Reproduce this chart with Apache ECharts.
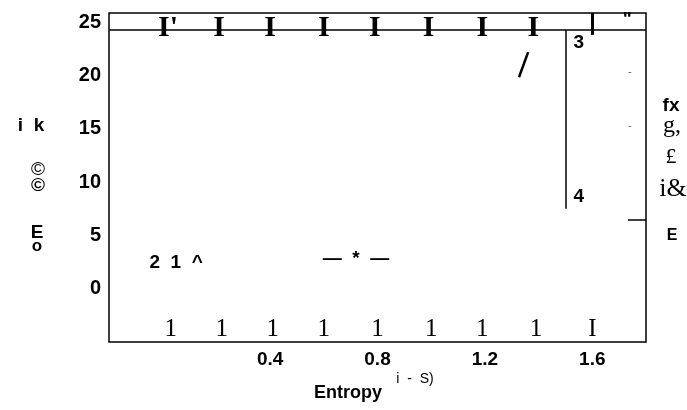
<!DOCTYPE html>
<html>
<head>
<meta charset="utf-8">
<script src="https://cdn.jsdelivr.net/npm/echarts@6/dist/echarts.min.js"></script>
<style>
  html, body { margin: 0; padding: 0; background: #fff; }
  #chart { width: 687px; height: 410px; }
</style>
</head>
<body>
<div id="chart"></div>
<script>
// axis ticks shown on the picture
const xTickLabels = ['0.4', '0.8', '1.2', '1.6'];
const yTickLabels = ['0', '5', '10', '15', '20', '25'];

// glyph rows along bottom and top of the frame
const bottomGlyphs = ['1', '1', '1', '1', '1', '1', '1', '1', 'I'];
const bottomGlyphX = [0.03, 0.22, 0.41, 0.6, 0.8, 1.0, 1.19, 1.39, 1.6];
const bottomGlyphY = -3.85;
const topGlyphs = ["I'", 'I', 'I', 'I', 'I', 'I', 'I', 'I'];
const topGlyphX = [0.02, 0.21, 0.4, 0.6, 0.79, 0.99, 1.19, 1.38];
const topGlyphY = 24.45;

// loose marks inside the plot
const noteText = ['2  1  ^', '—  *  —', '3', '4', '"'];
const noteX = [0.05, 0.72, 1.55, 1.55, 1.73];
const noteY = [2.44, 2.8, 23.1, 8.65, 25.2];

// line segments [x1, y1, x2, y2]
const segments = [
    [-0.2, 24.25, 1.8, 24.25],
    [1.5, 24.25, 1.5, 7.5],
    [1.6, 25.85, 1.6, 23.8],
    [1.733, 6.5, 1.8, 6.5],
    [1.327, 19.83, 1.361, 22.18],
    [1.735, 20.3, 1.745, 20.3],
    [1.735, 15.2, 1.745, 15.2]
];
const segmentWidth = [1.5, 1.5, 3, 1.5, 2.5, 1, 1];
const segmentColor = ['#000', '#000', '#000', '#000', '#000', '#777', '#777'];

const SANS = 'Liberation Sans, Arial, sans-serif';
const SERIF = 'Liberation Serif, Times New Roman, serif';

const chart = echarts.init(document.getElementById('chart'), null, { renderer: 'canvas' });

function glyphSeries(texts, xs, y, size, weight) {
    return {
        type: 'scatter',
        symbolSize: 0,
        silent: true,
        itemStyle: { opacity: 1 },
        data: texts.map((t, i) => ({ name: t, value: [xs[i], y] })),
        label: {
            show: true,
            position: 'inside',
            formatter: p => p.name,
            fontFamily: SERIF,
            fontWeight: weight,
            fontSize: size,
            color: '#000'
        }
    };
}

const sideText = (text, x, y, font) => ({
    type: 'text',
    x: x,
    y: y,
    style: {
        text: text,
        font: font,
        fill: '#000',
        textAlign: 'center',
        textVerticalAlign: 'middle'
    }
});

chart.setOption({
    animation: false,
    backgroundColor: '#fff',
    grid: {
        left: 109, right: 41, top: 13, bottom: 68,
        show: true,
        borderColor: '#000',
        borderWidth: 1.5
    },
    xAxis: {
        type: 'value',
        min: -0.2, max: 1.8, interval: 0.2,
        axisLine: { show: false },
        axisTick: { show: false },
        splitLine: { show: false },
        axisLabel: {
            margin: 8,
            color: '#000',
            fontFamily: SANS,
            fontWeight: 'bold',
            fontSize: 19,
            formatter: v => {
                const s = (+v).toFixed(1);
                return xTickLabels.includes(s) ? s : '';
            }
        }
    },
    yAxis: {
        type: 'value',
        min: -5, max: 25.85, interval: 5,
        axisLine: { show: false },
        axisTick: { show: false },
        splitLine: { show: false },
        axisLabel: {
            margin: 8,
            color: '#000',
            fontFamily: SANS,
            fontWeight: 'bold',
            fontSize: 20,
            formatter: v => {
                const s = String(Math.round(v));
                return yTickLabels.includes(s) ? s : '';
            }
        }
    },
    series: [
        glyphSeries(bottomGlyphs, bottomGlyphX, bottomGlyphY, 25, 'normal'),
        glyphSeries(topGlyphs, topGlyphX, topGlyphY, 30, 'bold'),
        {
            type: 'scatter',
            symbolSize: 0,
            silent: true,
            itemStyle: { opacity: 1 },
            data: noteText.map((t, i) => ({ name: t, value: [noteX[i], noteY[i]] })),
            label: {
                show: true,
                position: 'inside',
                formatter: p => p.name,
                fontFamily: SANS,
                fontWeight: 'bold',
                fontSize: 19,
                color: '#000'
            }
        },
        {
            type: 'lines',
            coordinateSystem: 'cartesian2d',
            silent: true,
            data: segments.map((s, i) => ({
                coords: [[s[0], s[1]], [s[2], s[3]]],
                lineStyle: { width: segmentWidth[i], color: segmentColor[i] }
            })),
            lineStyle: { opacity: 1, curveness: 0 }
        }
    ],
    graphic: [
        sideText('i  k', 31, 126, 'bold 19px ' + SANS),
        sideText('©', 38, 170, '19px ' + SANS),
        sideText('©', 38, 186, 'bold 19px ' + SANS),
        sideText('E', 37, 233, 'bold 19px ' + SANS),
        sideText('o', 37, 246, 'bold 17px ' + SANS),
        sideText('fx', 671, 106, 'bold 19px ' + SANS),
        sideText('g,', 672, 126, '24px ' + SERIF),
        sideText('£', 671, 157, '22px ' + SERIF),
        sideText('i&', 673, 189, '26px ' + SERIF),
        sideText('E', 672, 236, 'bold 16px ' + SANS),
        sideText('Entropy', 348, 393, 'bold 18px ' + SANS),
        sideText('i  -  S)', 415, 379, '14px ' + SANS)
    ]
});
</script>
</body>
</html>
